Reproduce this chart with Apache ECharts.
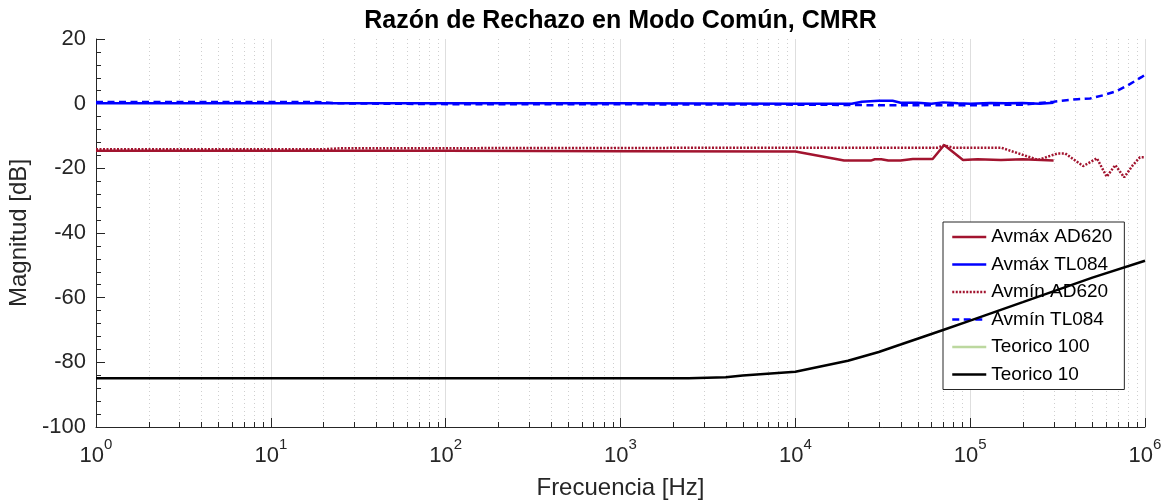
<!DOCTYPE html>
<html>
<head>
<meta charset="utf-8">
<script src="https://cdn.jsdelivr.net/npm/echarts@6/dist/echarts.min.js"></script>
<style>
  html, body { margin: 0; padding: 0; background: #fff; }
  #chart { width: 1175px; height: 504px; }
</style>
</head>
<body>
<div id="chart"></div>
<script>
// Frequencies in Hz, magnitudes in dB
const freqAvmaxAD620 = [1, 10, 100, 1000, 10000, 19000, 27000, 28500, 31000, 34000, 40000, 47000, 61000, 71000, 91000, 110000, 150000, 200000, 300000];
const magAvmaxAD620  = [-14.6, -14.6, -14.6, -14.7, -14.8, -17.6, -17.6, -17.2, -17.2, -17.6, -17.6, -17.1, -17.1, -12.8, -17.4, -17.2, -17.4, -17.2, -17.6];

const freqAvmaxTL084 = [1, 10, 100, 1000, 10000, 21000, 24000, 30000, 36000, 40000, 50000, 60000, 70000, 85000, 100000, 130000, 160000, 200000, 250000, 300000];
const magAvmaxTL084  = [0.1, 0.1, 0.1, 0.1, 0.0, 0.0, 0.6, 0.9, 0.9, 0.3, 0.3, 0.0, 0.4, 0.1, 0.0, 0.2, 0.1, 0.2, 0.0, 0.3];

const freqAvminAD620 = [1, 20, 25, 1000, 10000, 65000, 71000, 80000, 150000, 245000, 316000, 350000, 443000, 531000, 604000, 676000, 760000, 853000, 935000, 1000000];
const magAvminAD620  = [-14.1, -14.1, -13.8, -13.7, -13.6, -13.6, -12.9, -13.6, -13.6, -17.4, -15.4, -15.4, -19.3, -16.9, -22.6, -19.0, -22.8, -19.0, -16.6, -16.6];

const freqAvminTL084 = [1, 18, 25, 130, 1000, 10000, 20000, 30000, 100000, 200000, 300000, 410000, 485000, 576000, 690000, 800000, 960000, 1000000];
const magAvminTL084  = [0.5, 0.5, 0.1, -0.2, -0.2, -0.3, -0.4, -0.5, -0.5, -0.3, 0.6, 1.4, 1.6, 2.6, 3.9, 5.7, 8.3, 8.9];

const freqTeorico100 = [];
const magTeorico100  = [];

const freqTeorico10 = [1, 10, 100, 1000, 2450, 4000, 5000, 10000, 20000, 30000, 40000, 50000, 70000, 100000, 200000, 500000, 1000000];
const magTeorico10  = [-84.9, -84.9, -84.9, -84.9, -84.9, -84.6, -84.1, -82.9, -79.5, -76.8, -74.5, -72.7, -70.0, -67.1, -61.4, -53.8, -48.6];

const seriesNames = ['Avmáx AD620', 'Avmáx TL084', 'Avmín AD620', 'Avmín TL084', 'Teorico 100', 'Teorico 10'];

// Axis ranges and tick values
const X_MIN = 1, X_MAX = 1e6;
const Y_MIN = -100, Y_MAX = 20, Y_STEP = 20;
const decadeTicks = [1, 10, 100, 1000, 10000, 100000, 1000000];
const minorTicksX = [];
for (let i = 0; i < decadeTicks.length - 1; i++) {
  for (let k = 2; k <= 9; k++) minorTicksX.push(k * decadeTicks[i]);
}

const FONT = '"Liberation Sans", Arial, Helvetica, sans-serif';
const AXIS_COLOR = '#262626';
const RED = '#A2142F';
const BLUE = '#0000FF';

function pairs(xs, ys) { return xs.map((x, i) => [x, ys[i]]); }

function lineSeries(name, xs, ys, color, type, z) {
  return {
    name: name,
    type: 'line',
    data: pairs(xs, ys),
    showSymbol: false,
    symbol: 'none',
    animation: false,
    z: z,
    lineStyle: { color: color, width: 2.5, type: type, cap: 'butt' },
    itemStyle: { color: color }
  };
}

const chart = echarts.init(document.getElementById('chart'), null, { renderer: 'canvas' });

chart.setOption({
  animation: false,
  backgroundColor: '#ffffff',
  title: {
    text: 'Razón de Rechazo en Modo Común, CMRR',
    left: 615.5,
    textAlign: 'center',
    top: 4,
    textStyle: { fontFamily: FONT, fontSize: 25, fontWeight: 'bold', color: '#000' }
  },
  grid: { left: 96, right: 30, top: 39, bottom: 77, containLabel: false, outerBoundsMode: 'none' },
  legend: {
    orient: 'vertical',
    left: 943,
    top: 222,
    padding: [5, 12, 5, 8],
    itemGap: 7.5,
    itemWidth: 34,
    itemHeight: 14,
    backgroundColor: '#ffffff',
    borderColor: AXIS_COLOR,
    borderWidth: 1,
    borderRadius: 0,
    data: seriesNames,
    itemStyle: { opacity: 0 },
    lineStyle: { width: 2.5 },
    textStyle: { fontFamily: FONT, fontSize: 19, color: '#000', lineHeight: 20 }
  },
  xAxis: {
    type: 'log',
    logBase: 10,
    min: X_MIN,
    max: X_MAX,
    name: 'Frecuencia [Hz]',
    nameLocation: 'middle',
    nameGap: 49,
    nameTextStyle: { fontFamily: FONT, fontSize: 24, color: AXIS_COLOR },
    axisLine: { show: true, onZero: false, lineStyle: { color: AXIS_COLOR, width: 1 } },
    axisTick: { show: true, inside: true, length: 9, lineStyle: { color: AXIS_COLOR } },
    splitLine: { show: true, lineStyle: { color: '#dedede', width: 1 } },
    axisLabel: {
      margin: 10,
      formatter: function (v) {
        const e = Math.round(Math.log10(v));
        return '{b|10}{s|' + e + '}';
      },
      rich: {
        b: { fontFamily: FONT, fontSize: 22, color: AXIS_COLOR, lineHeight: 30, verticalAlign: 'bottom' },
        s: { fontFamily: FONT, fontSize: 15, color: AXIS_COLOR, lineHeight: 15, verticalAlign: 'top' }
      }
    }
  },
  yAxis: {
    type: 'value',
    min: Y_MIN,
    max: Y_MAX,
    interval: Y_STEP,
    name: 'Magnitud [dB]',
    nameLocation: 'middle',
    nameGap: 62,
    nameRotate: 90,
    nameTextStyle: { fontFamily: FONT, fontSize: 24, color: AXIS_COLOR },
    axisLine: { show: true, onZero: false, lineStyle: { color: AXIS_COLOR, width: 1 } },
    axisTick: { show: true, inside: true, length: 9, lineStyle: { color: AXIS_COLOR } },
    minorTick: { show: true, splitNumber: 5, length: 5, lineStyle: { color: AXIS_COLOR } },
    splitLine: { show: false },
    axisLabel: { margin: 10, fontFamily: FONT, fontSize: 22, color: AXIS_COLOR }
  },
  series: [
    // Minor decade grid lines and minor ticks along the frequency axis
    {
      type: 'custom',
      name: 'minorGrid',
      silent: true,
      z: 0,
      animation: false,
      clip: false,
      data: minorTicksX.map(f => [f, Y_MIN]),
      encode: { x: 0, y: 1 },
      renderItem: function (params, api) {
        const f = api.value(0);
        const top = api.coord([f, Y_MAX]);
        const bot = api.coord([f, Y_MIN]);
        const x = Math.round(top[0]) + 0.5;
        return {
          type: 'group',
          children: [
            { type: 'line', silent: true,
              shape: { x1: x, y1: top[1], x2: x, y2: bot[1] },
              style: { stroke: '#cfcfcf', lineWidth: 1, lineDash: [1, 3] } },
            { type: 'line', silent: true,
              shape: { x1: x, y1: bot[1], x2: x, y2: bot[1] - 5 },
              style: { stroke: AXIS_COLOR, lineWidth: 1 } }
          ]
        };
      }
    },
    lineSeries(seriesNames[0], freqAvmaxAD620, magAvmaxAD620, RED, 'solid', 2),
    lineSeries(seriesNames[1], freqAvmaxTL084, magAvmaxTL084, BLUE, 'solid', 3),
    lineSeries(seriesNames[2], freqAvminAD620, magAvminAD620, RED, [2, 1.5], 4),
    lineSeries(seriesNames[3], freqAvminTL084, magAvminTL084, BLUE, [7, 4.5], 5),
    lineSeries(seriesNames[4], freqTeorico100, magTeorico100, '#bcd89f', 'solid', 6),
    lineSeries(seriesNames[5], freqTeorico10, magTeorico10, '#000000', 'solid', 7)
  ]
});
</script>
</body>
</html>
